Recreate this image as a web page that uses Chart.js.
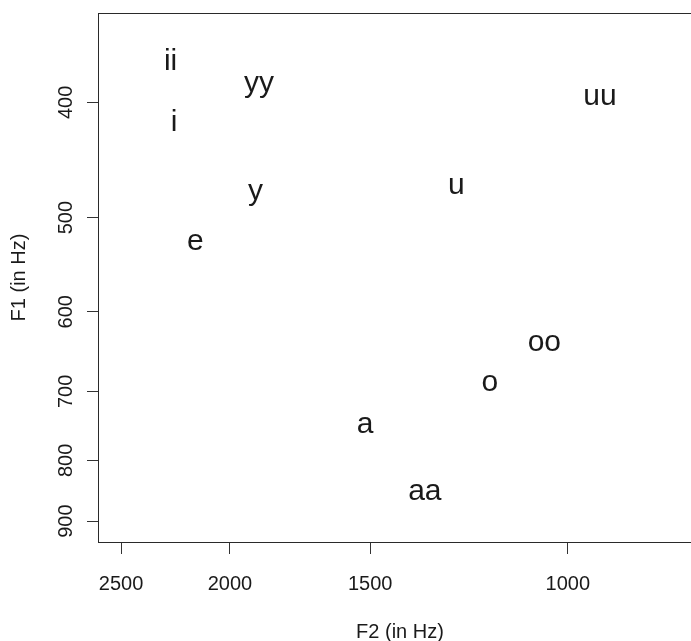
<!DOCTYPE html>
<html>
<head>
<meta charset="utf-8">
<script src="https://cdn.jsdelivr.net/npm/chart.js@4"></script>
<style>
    html, body { margin: 0; padding: 0; background: #fff; overflow: hidden; }
    canvas { display: block; }
</style>
</head>
<body>
<canvas id="chart-vowels" width="720" height="641" style="width:720px;height:641px"></canvas>
<script>
// Vowel space: F2 (x, log, reversed) vs F1 (y, log, reversed)
const vowels = ['ii', 'yy', 'i', 'uu', 'y', 'u', 'e', 'oo', 'o', 'a', 'aa'];
const f2Values = [2258, 1884, 2242, 937, 1898, 1258, 2146, 1049, 1173, 1514, 1339];
const f1Values = [367.5, 388, 414, 395.5, 478.5, 470, 524, 638, 689, 747, 850];
const f2Ticks = [2500, 2000, 1500, 1000];
const f1Ticks = [400, 500, 600, 700, 800, 900];
const f2Range = [761, 2616];
const f1Range = [336.4, 937.1];

const FONT = '"Liberation Sans", Arial, Helvetica, sans-serif';
const INK = '#1a1a1a';

// vowel text at each point, centred on its ink like R's text()
const vowelLabels = {
    id: 'vowelLabels',
    afterDatasetsDraw(chart) {
        const ctx = chart.ctx;
        const meta = chart.getDatasetMeta(0);
        ctx.save();
        ctx.font = '30px ' + FONT;
        ctx.fillStyle = INK;
        ctx.textAlign = 'left';
        ctx.textBaseline = 'alphabetic';
        meta.data.forEach((pt, i) => {
            const m = ctx.measureText(vowels[i]);
            const x = pt.x - (m.actualBoundingBoxRight - m.actualBoundingBoxLeft) / 2;
            const y = pt.y + (m.actualBoundingBoxAscent - m.actualBoundingBoxDescent) / 2;
            ctx.fillText(vowels[i], x, y);
        });
        ctx.restore();
    }
};

// plot box
const plotBox = {
    id: 'plotBox',
    afterDraw(chart) {
        const { left, top, right, bottom } = chart.chartArea;
        const ctx = chart.ctx;
        ctx.save();
        ctx.strokeStyle = '#2a2a2a';
        ctx.lineWidth = 1;
        ctx.strokeRect(Math.round(left) - 0.5, Math.round(top) + 0.5, Math.round(right - left), Math.round(bottom - top));
        ctx.restore();
    }
};

new Chart(document.getElementById('chart-vowels'), {
    type: 'scatter',
    data: {
        datasets: [{
            data: vowels.map((v, i) => ({ x: f2Values[i], y: f1Values[i] })),
            pointRadius: 0,
            pointHoverRadius: 0
        }]
    },
    options: {
        responsive: false,
        animation: false,
        devicePixelRatio: 1,
        layout: { padding: { top: 13, right: 19, left: 0, bottom: 0 } },
        plugins: { legend: { display: false }, tooltip: { enabled: false } },
        scales: {
            x: {
                type: 'logarithmic', reverse: true, bounds: 'data',
                min: f2Range[0], max: f2Range[1],
                afterBuildTicks: s => { s.ticks = f2Ticks.map(v => ({ value: v })); },
                afterFit: s => { s.height = 99; s.paddingLeft = 0; s.paddingRight = 0; },
                grid: { drawOnChartArea: false, drawTicks: true, tickLength: 12, color: '#333', lineWidth: 1 },
                border: { display: false },
                ticks: { callback: v => String(v), autoSkip: false, minRotation: 0, maxRotation: 0, padding: 18, color: INK, font: { family: FONT, size: 20 } },
                title: { display: true, text: 'F2 (in Hz)', color: INK, font: { family: FONT, size: 20, lineHeight: 1 }, padding: { top: 0, bottom: -1 } }
            },
            y: {
                type: 'logarithmic', reverse: true, bounds: 'data',
                min: f1Range[0], max: f1Range[1],
                afterBuildTicks: s => { s.ticks = f1Ticks.map(v => ({ value: v })); },
                afterFit: s => { s.width = 99; s.paddingTop = 0; s.paddingBottom = 0; },
                grid: { drawOnChartArea: false, drawTicks: true, tickLength: 12, color: '#333', lineWidth: 1 },
                border: { display: false },
                ticks: { callback: v => String(v), autoSkip: false, minRotation: 90, maxRotation: 90, crossAlign: 'center', padding: 4, color: INK, font: { family: FONT, size: 20 } },
                title: { display: true, text: 'F1 (in Hz)', color: INK, font: { family: FONT, size: 20, lineHeight: 1 }, padding: { top: 9, bottom: 0 } }
            }
        }
    },
    plugins: [vowelLabels, plotBox]
});
</script>
</body>
</html>
